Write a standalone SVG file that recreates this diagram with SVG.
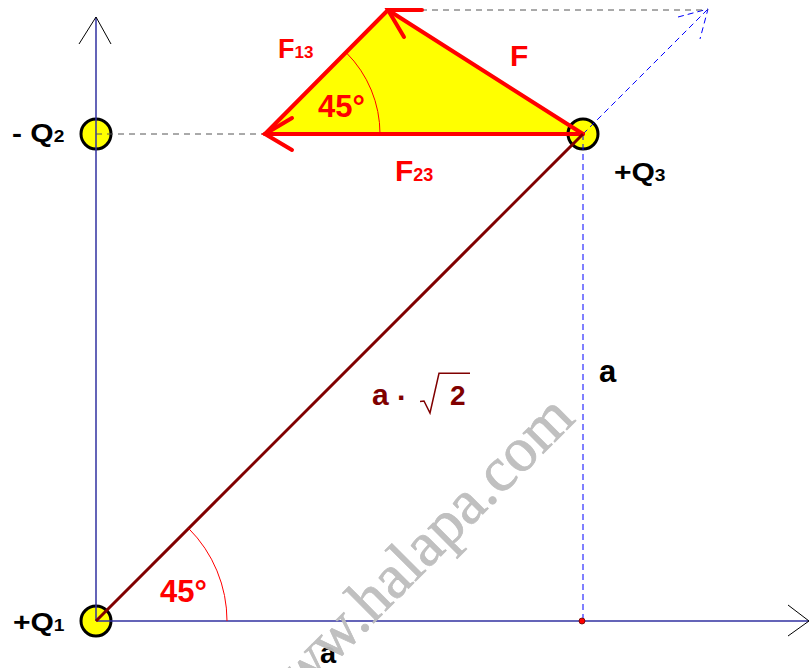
<svg xmlns="http://www.w3.org/2000/svg" width="809" height="668" viewBox="0 0 809 668">
<style>
.axis{stroke:#3030a0;stroke-width:1.5;fill:none}
.head{stroke:#000;stroke-width:1;fill:none}
.bdash{stroke:#0000ff;stroke-width:1;stroke-dasharray:6,4;fill:none}
.gdash{stroke:#555;stroke-width:1;stroke-dasharray:6,5;fill:none}
.force{stroke:#ff0000;stroke-width:4;stroke-linecap:round;fill:none}
.arc{stroke:#ff0000;stroke-width:1;fill:none}
.charge{fill:#ffff00;stroke:#000;stroke-width:3}
.lbl{font-family:"Liberation Sans",Arial,sans-serif;font-weight:bold}
.blk{fill:#000}
.red{fill:#ff0000}
.dred{fill:#800000}
</style>
<rect width="809" height="668" fill="#fff"/>
<g id="triangle">
<polygon points="265,134 388,10 583,134" fill="#ffff00"/>
</g>
<g id="Q1"><circle class="charge" cx="96" cy="621" r="15"/></g>
<g id="Q2"><circle class="charge" cx="96" cy="134" r="15"/></g>
<g id="Q3"><circle class="charge" cx="583" cy="134" r="15"/></g>
<g id="connectors">
<line class="axis" x1="96" y1="621" x2="96" y2="17"/>
<polyline class="head" points="79,44 96,17 111,44"/>
<line class="axis" x1="96" y1="621" x2="809" y2="621"/>
<polyline class="head" points="788,605 809,621 788,636"/>
<line class="bdash" x1="583" y1="134" x2="583" y2="621"/>
<line class="bdash" x1="583" y1="134" x2="708" y2="9"/>
<polyline class="bdash" points="678,17 708,9 700,39"/>
<line class="gdash" x1="96" y1="134" x2="265" y2="134"/>
<line class="gdash" x1="388" y1="10" x2="708" y2="10"/>
<line class="force" x1="265" y1="134" x2="388" y2="10"/>
<line class="force" x1="583" y1="134" x2="265" y2="134"/>
<polyline class="force" points="292,118 265,134 292,150"/>
<line class="force" x1="583" y1="134" x2="388" y2="10"/>
<polyline class="force" points="422,10 388,10 404,37"/>
<line x1="96" y1="621" x2="583" y2="134" stroke="#800000" stroke-width="3"/>
<path class="arc" d="M 380 134 A 115 115 0 0 0 346.3 52.7"/>
<path class="arc" d="M 227 621 A 131 131 0 0 0 188.6 528.4"/>
<circle cx="582" cy="621" r="3" fill="#ff0000" stroke="#600" stroke-width="0.8"/>
<polyline points="420,401.5 424,401 430,413 439,373.3 470,373.3" fill="none" stroke="#800000" stroke-width="1.5"/>
</g>
<g id="labels">
<text class="lbl blk" font-size="25" transform="translate(13,631) scale(1.2,1)">+Q<tspan font-size="16">1</tspan></text>
<text class="lbl blk" font-size="25" transform="translate(12,142) scale(1.2,1)">- Q<tspan font-size="16">2</tspan></text>
<text class="lbl blk" font-size="25" transform="translate(614,181) scale(1.2,1)">+Q<tspan font-size="16">3</tspan></text>
<text class="lbl red" x="278" y="58" font-size="27">F<tspan font-size="17">13</tspan></text>
<text class="lbl red" x="510" y="66" font-size="30">F</text>
<text class="lbl red" x="395" y="181" font-size="30">F<tspan font-size="18">23</tspan></text>
<text class="lbl red" x="318" y="117" font-size="31">45°</text>
<text class="lbl red" x="160" y="602" font-size="31">45°</text>
<text class="lbl dred" x="372" y="405" font-size="30">a</text>
<text class="lbl dred" x="397" y="408" font-size="30">·</text>
<text class="lbl dred" x="450" y="405" font-size="28">2</text>
<text class="lbl blk" x="599" y="382" font-size="31">a</text>
<text class="lbl blk" x="320" y="663" font-size="29">a</text>
</g>
<g id="watermark">
<text x="268" y="729" font-family="'Liberation Serif','Times New Roman',serif" font-size="63" fill="#bdbdbd" stroke="#bdbdbd" stroke-width="0.7" fill-opacity="0.95" transform="rotate(-45 268 729)">www.halapa.com</text>
</g>
</svg>
